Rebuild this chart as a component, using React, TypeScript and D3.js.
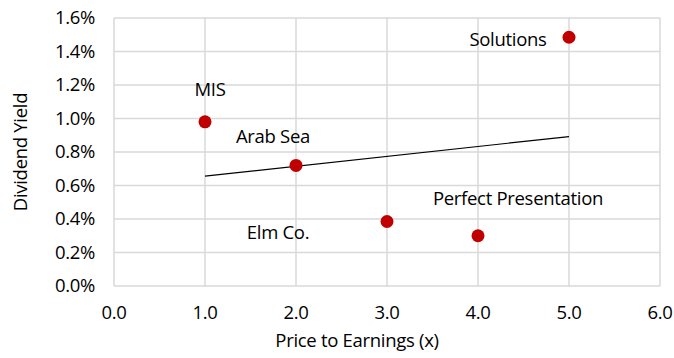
import React from 'react';
import * as d3 from 'd3';

const companies: string[] = ['MIS', 'Arab Sea', 'Elm Co.', 'Perfect Presentation', 'Solutions'];
const peRatios: number[] = [1.0, 2.0, 3.0, 4.0, 5.0];
const dividendYields: number[] = [0.0098, 0.0072, 0.00385, 0.0030, 0.01485];

const xTicks: number[] = [0, 1, 2, 3, 4, 5, 6];
const yTicks: number[] = [0, 0.002, 0.004, 0.006, 0.008, 0.01, 0.012, 0.014, 0.016];

const width = 674;
const height = 358;
const margin = { top: 18, right: 14, bottom: 72, left: 114 };
const font = "'Open Sans', sans-serif";

// label placement around each point
const labelOffset: { [k: string]: [number, number] } = {
    'MIS': [5, -26],
    'Arab Sea': [-23, -22],
    'Elm Co.': [-109, 17],
    'Perfect Presentation': [40, -31],
    'Solutions': [-61, 9],
};

function App() {
    const x = d3.scaleLinear().domain([0, 6]).range([margin.left, width - margin.right]);
    const y = d3.scaleLinear().domain([0, 0.016]).range([height - margin.bottom, margin.top]);

    // linear trend line (least squares)
    const mx = d3.mean(peRatios) as number;
    const my = d3.mean(dividendYields) as number;
    let sxy = 0, sxx = 0;
    peRatios.forEach((v, i) => {
        sxy += (v - mx) * (dividendYields[i] - my);
        sxx += (v - mx) * (v - mx);
    });
    const slope = sxy / sxx;
    const intercept = my - slope * mx;
    const x0 = d3.min(peRatios) as number;
    const x1 = d3.max(peRatios) as number;
    const line = d3.line<number>().x(d => x(d)).y(d => y(intercept + slope * d));

    return (
        <svg width={width} height={height} style={{ position: 'absolute', left: 0, top: 0 }}>
            <rect width={width} height={height} fill="#fff" />
            <g stroke="#d9d9d9" strokeWidth={1.5}>
                {xTicks.map(t => (
                    <line key={'gx' + t} x1={x(t)} x2={x(t)} y1={y(0)} y2={y(0.016)} />
                ))}
                {yTicks.map(t => (
                    <line key={'gy' + t} x1={x(0)} x2={x(6)} y1={y(t)} y2={y(t)} />
                ))}
            </g>
            <g fontFamily={font} fontSize={18.5} fill="#000" letterSpacing={-0.3}>
                {xTicks.map(t => (
                    <text key={'tx' + t} x={x(t)} y={319} textAnchor="middle">{d3.format('.1f')(t)}</text>
                ))}
                {yTicks.map(t => (
                    <text key={'ty' + t} x={95} y={y(t)} dy="0.35em" textAnchor="end">{d3.format('.1%')(t)}</text>
                ))}
                <text x={(x(0) + x(6)) / 2 - 30} y={347} textAnchor="middle">Price to Earnings (x)</text>
                <text transform={`translate(27,${(y(0) + y(0.016)) / 2}) rotate(-90)`} textAnchor="middle">Dividend Yield</text>
            </g>
            <path d={line([x0, x1]) as string} fill="none" stroke="#000" strokeWidth={1.2} />
            <g>
                {companies.map((c, i) => (
                    <circle key={c} cx={x(peRatios[i])} cy={y(dividendYields[i])} r={6.5} fill="#c00000" />
                ))}
            </g>
            <g fontFamily={font} fontSize={18.5} fill="#000" letterSpacing={-0.3}>
                {companies.map((c, i) => (
                    <text key={c}
                        x={x(peRatios[i]) + labelOffset[c][0]}
                        y={y(dividendYields[i]) + labelOffset[c][1]}
                        textAnchor="middle">{c}</text>
                ))}
            </g>
        </svg>
    );
}

export default App;
